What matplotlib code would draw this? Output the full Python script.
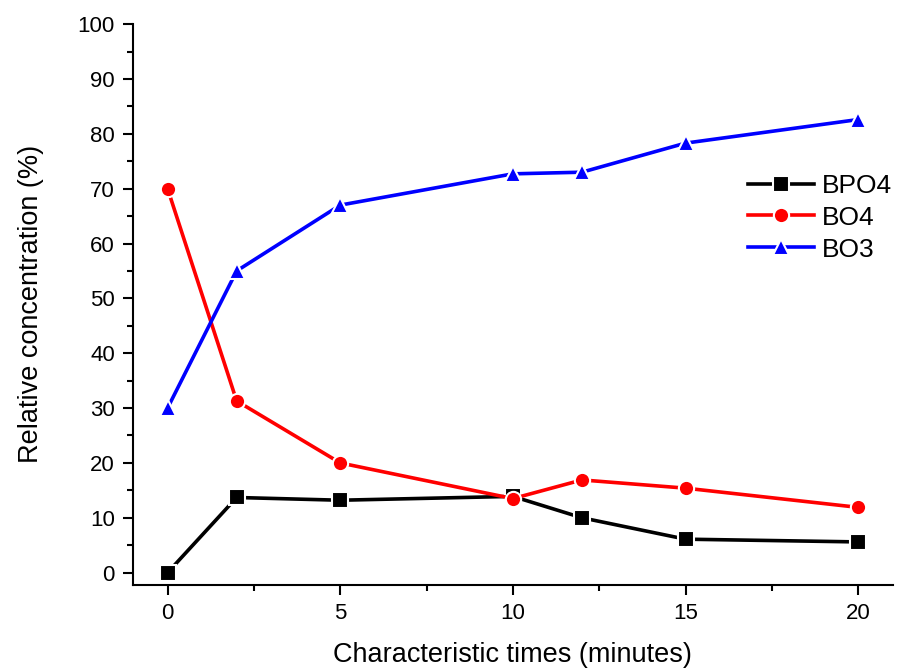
import matplotlib
matplotlib.use('Agg')
import matplotlib.pyplot as plt
from matplotlib.ticker import MultipleLocator

plt.rcParams['font.family'] = ['Liberation Sans', 'DejaVu Sans']

times = [0, 2, 5, 10, 12, 15, 20]
bpo4 = [0.0, 13.7, 13.2, 13.9, 10.0, 6.1, 5.6]
bo4 = [70.0, 31.3, 20.0, 13.5, 16.9, 15.4, 11.9]
bo3 = [30.0, 55.0, 67.0, 72.7, 73.0, 78.3, 82.6]

fig = plt.figure(figsize=(8.99, 6.69), dpi=100)
ax = fig.add_axes([0.148, 0.126, 0.845, 0.838])

style = dict(lw=2.6, markersize=11, markeredgecolor='white', markeredgewidth=1.5)
ax.plot(times, bpo4, color='black', marker='s', label='BPO4', **style)
ax.plot(times, bo4, color='red', marker='o', label='BO4', **style)
ax.plot(times, bo3, color='blue', marker='^', label='BO3', **style)

ax.set_xlim(-1, 21)
ax.set_ylim(-2.2, 100)
ax.spines['top'].set_visible(False)
ax.spines['right'].set_visible(False)
for s in ('left', 'bottom'):
    ax.spines[s].set_linewidth(1.5)

ax.xaxis.set_major_locator(MultipleLocator(5))
ax.xaxis.set_minor_locator(MultipleLocator(2.5))
ax.yaxis.set_major_locator(MultipleLocator(10))
ax.yaxis.set_minor_locator(MultipleLocator(5))
ax.tick_params(which='major', direction='out', length=7, width=1.5, labelsize=16, pad=6)
ax.tick_params(which='minor', direction='out', length=4, width=1.5)

ax.set_xlabel('Characteristic times (minutes)', fontsize=19.5, labelpad=13)
ax.set_ylabel('Relative concentration (%)', fontsize=19.5, labelpad=24)

leg = ax.legend(loc='upper left', bbox_to_anchor=(0.81, 0.733), frameon=False,
                borderaxespad=0, borderpad=0, fontsize=19, handlelength=2.5,
                labelspacing=0.3, handletextpad=0.3, markerscale=1.0)

fig.savefig('out.png', dpi=100)
